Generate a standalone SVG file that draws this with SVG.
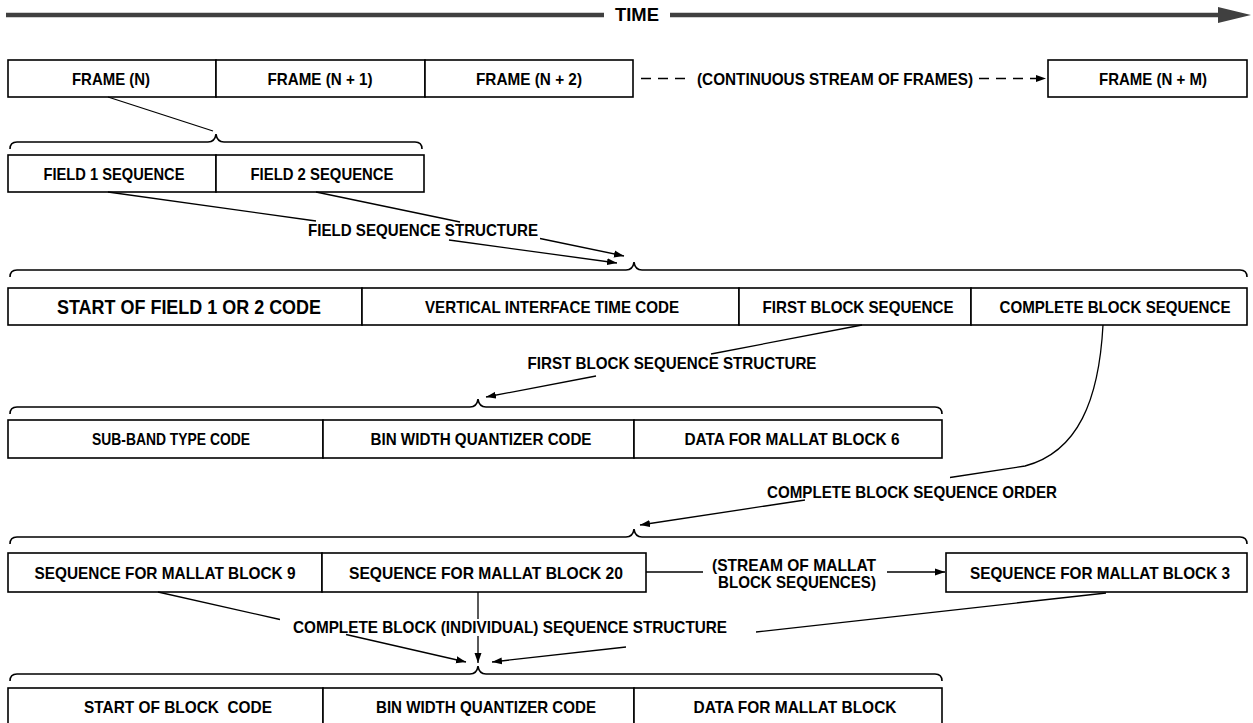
<svg xmlns="http://www.w3.org/2000/svg" width="1253" height="723" viewBox="0 0 1253 723">
<style>
.box{fill:#fff;stroke:#000;stroke-width:1.6}
.t{font-family:"Liberation Sans",Arial,Helvetica,sans-serif;font-weight:bold;font-size:16.5px;text-anchor:middle;fill:#000}
.big{font-size:20px}
.ln{stroke:#000;stroke-width:1.3;fill:none}
.br{stroke:#000;stroke-width:1.6;fill:none}
.dash{stroke-dasharray:10 7}
</style>
<defs>
<marker id="ah" markerUnits="userSpaceOnUse" markerWidth="11" markerHeight="8" refX="10" refY="4" orient="auto">
<path d="M0,0.5 L10,4 L0,7.5 z" fill="#000"/>
</marker>
</defs>
<rect width="1253" height="723" fill="#fff"/>

<g id="time-axis">
<line x1="6" y1="15" x2="604" y2="15" stroke="#404040" stroke-width="4.5"/>
<line x1="670" y1="15" x2="1222" y2="15" stroke="#404040" stroke-width="4.5"/>
<polygon points="1218,7 1251,15 1218,23" fill="#404040"/>
<text class="t" x="637" y="21" style="font-size:18px" textLength="44" lengthAdjust="spacingAndGlyphs">TIME</text>
</g>

<g id="frame-n"><rect class="box" x="8" y="60" width="208" height="37"/><text class="t" x="111" y="84.5" textLength="78" lengthAdjust="spacingAndGlyphs">FRAME (N)</text></g>
<g id="frame-n1"><rect class="box" x="216" y="60" width="209" height="37"/><text class="t" x="320" y="84.5" textLength="105" lengthAdjust="spacingAndGlyphs">FRAME (N + 1)</text></g>
<g id="frame-n2"><rect class="box" x="425" y="60" width="208" height="37"/><text class="t" x="529" y="84.5" textLength="106" lengthAdjust="spacingAndGlyphs">FRAME (N + 2)</text></g>
<g id="frame-nm"><rect class="box" x="1048" y="60" width="199" height="37"/><text class="t" x="1153" y="84.5" textLength="108" lengthAdjust="spacingAndGlyphs">FRAME (N + M)</text></g>

<g id="field1"><rect class="box" x="8" y="155" width="208" height="37"/><text class="t" x="114" y="179.5" textLength="141" lengthAdjust="spacingAndGlyphs">FIELD 1 SEQUENCE</text></g>
<g id="field2"><rect class="box" x="216" y="155" width="208" height="37"/><text class="t" x="322" y="179.5" textLength="143" lengthAdjust="spacingAndGlyphs">FIELD 2 SEQUENCE</text></g>

<g id="start-field"><rect class="box" x="8" y="288" width="354" height="37"/><text class="t big" x="189" y="313.5" textLength="264" lengthAdjust="spacingAndGlyphs">START OF FIELD 1 OR 2 CODE</text></g>
<g id="vitc"><rect class="box" x="362" y="288" width="377" height="37"/><text class="t" x="552" y="312.5" textLength="254" lengthAdjust="spacingAndGlyphs">VERTICAL INTERFACE TIME CODE</text></g>
<g id="first-block"><rect class="box" x="739" y="288" width="232" height="37"/><text class="t" x="858" y="312.5" textLength="191" lengthAdjust="spacingAndGlyphs">FIRST BLOCK SEQUENCE</text></g>
<g id="complete-block"><rect class="box" x="971" y="288" width="276" height="37"/><text class="t" x="1115" y="312.5" textLength="231" lengthAdjust="spacingAndGlyphs">COMPLETE BLOCK SEQUENCE</text></g>

<g id="subband"><rect class="box" x="8" y="420" width="315" height="38"/><text class="t" x="171" y="445" textLength="158" lengthAdjust="spacingAndGlyphs">SUB-BAND TYPE CODE</text></g>
<g id="binwidth1"><rect class="box" x="323" y="420" width="311" height="38"/><text class="t" x="481" y="445" textLength="221" lengthAdjust="spacingAndGlyphs">BIN WIDTH QUANTIZER CODE</text></g>
<g id="data6"><rect class="box" x="634" y="420" width="308" height="38"/><text class="t" x="792" y="445" textLength="215" lengthAdjust="spacingAndGlyphs">DATA FOR MALLAT BLOCK 6</text></g>

<g id="seq9"><rect class="box" x="8" y="553" width="314" height="39"/><text class="t" x="165" y="578.5" textLength="261" lengthAdjust="spacingAndGlyphs">SEQUENCE FOR MALLAT BLOCK 9</text></g>
<g id="seq20"><rect class="box" x="322" y="553" width="324" height="39"/><text class="t" x="486" y="578.5" textLength="274" lengthAdjust="spacingAndGlyphs">SEQUENCE FOR MALLAT BLOCK 20</text></g>
<g id="seq3"><rect class="box" x="946" y="553" width="301" height="39"/><text class="t" x="1100" y="578.5" textLength="260" lengthAdjust="spacingAndGlyphs">SEQUENCE FOR MALLAT BLOCK 3</text></g>

<g id="start-block"><rect class="box" x="8" y="688" width="315" height="40"/><text class="t" x="178" y="713" xml:space="preserve" textLength="188" lengthAdjust="spacingAndGlyphs">START OF BLOCK  CODE</text></g>
<g id="binwidth2"><rect class="box" x="323" y="688" width="311" height="40"/><text class="t" x="486" y="713" textLength="220" lengthAdjust="spacingAndGlyphs">BIN WIDTH QUANTIZER CODE</text></g>
<g id="data"><rect class="box" x="634" y="688" width="308" height="40"/><text class="t" x="795" y="713" textLength="203" lengthAdjust="spacingAndGlyphs">DATA FOR MALLAT BLOCK</text></g>

<g id="connectors">
<path class="br" d="M10,149 Q10,142 17,142 L208,142 Q215,142 216,134 Q217,142 224,142 L415,142 Q422,142 422,149"/>
<path class="br" d="M10,277 Q10,270 17,270 L626,270 Q633,270 634,262 Q635,270 642,270 L1240,270 Q1247,270 1247,277"/>
<path class="br" d="M10,414 Q10,407 17,407 L470,407 Q477,407 478,399 Q479,407 486,407 L935,407 Q942,407 942,414"/>
<path class="br" d="M10,544 Q10,537 17,537 L626,537 Q633,537 634,529 Q635,537 642,537 L1240,537 Q1247,537 1247,544"/>
<path class="br" d="M10,681 Q10,674 17,674 L470,674 Q477,674 478,666 Q479,674 486,674 L935,674 Q942,674 942,681"/>

<line class="ln dash" x1="641" y1="78.5" x2="690" y2="78.5"/>
<text class="t" x="835" y="84.5" textLength="276" lengthAdjust="spacingAndGlyphs">(CONTINUOUS STREAM OF FRAMES)</text>
<line class="ln dash" x1="979" y1="78.5" x2="1046" y2="78.5" marker-end="url(#ah)"/>

<line class="ln" x1="108" y1="97" x2="213" y2="131"/>

<line class="ln" x1="108" y1="192" x2="316" y2="221"/>
<line class="ln" x1="449" y1="240" x2="617" y2="263" marker-end="url(#ah)"/>
<line class="ln" x1="316" y1="192" x2="460" y2="222"/>
<line class="ln" x1="540" y1="238.5" x2="624" y2="256" marker-end="url(#ah)"/>
<text class="t" x="423" y="236" textLength="230" lengthAdjust="spacingAndGlyphs">FIELD SEQUENCE STRUCTURE</text>

<line class="ln" x1="862" y1="325" x2="711" y2="354"/>
<line class="ln" x1="596" y1="376" x2="486" y2="397" marker-end="url(#ah)"/>
<text class="t" x="672" y="369" textLength="289" lengthAdjust="spacingAndGlyphs">FIRST BLOCK SEQUENCE STRUCTURE</text>

<path class="ln" d="M1103,325 C1099,400 1078,452 1025,466 L950,477.5"/>
<line class="ln" x1="805" y1="500" x2="640" y2="525" marker-end="url(#ah)"/>
<text class="t" x="912" y="498" textLength="290" lengthAdjust="spacingAndGlyphs">COMPLETE BLOCK SEQUENCE ORDER</text>

<line class="ln" x1="646" y1="572" x2="703" y2="572"/>
<text class="t" x="794" y="571" textLength="164" lengthAdjust="spacingAndGlyphs">(STREAM OF MALLAT</text>
<text class="t" x="797" y="588" textLength="158" lengthAdjust="spacingAndGlyphs">BLOCK SEQUENCES)</text>
<line class="ln" x1="887" y1="572" x2="945" y2="572" marker-end="url(#ah)"/>

<line class="ln" x1="158" y1="592" x2="280" y2="619.5"/>
<line class="ln" x1="346" y1="634.5" x2="466" y2="662" marker-end="url(#ah)"/>
<line class="ln" x1="478" y1="592" x2="478" y2="619"/>
<line class="ln" x1="478" y1="636" x2="478" y2="663" marker-end="url(#ah)"/>
<line class="ln" x1="1106" y1="593" x2="756" y2="632"/>
<line class="ln" x1="626" y1="647" x2="492" y2="662" marker-end="url(#ah)"/>
<text class="t" x="510" y="632.5" textLength="434" lengthAdjust="spacingAndGlyphs">COMPLETE BLOCK (INDIVIDUAL) SEQUENCE STRUCTURE</text>
</g>
</svg>
